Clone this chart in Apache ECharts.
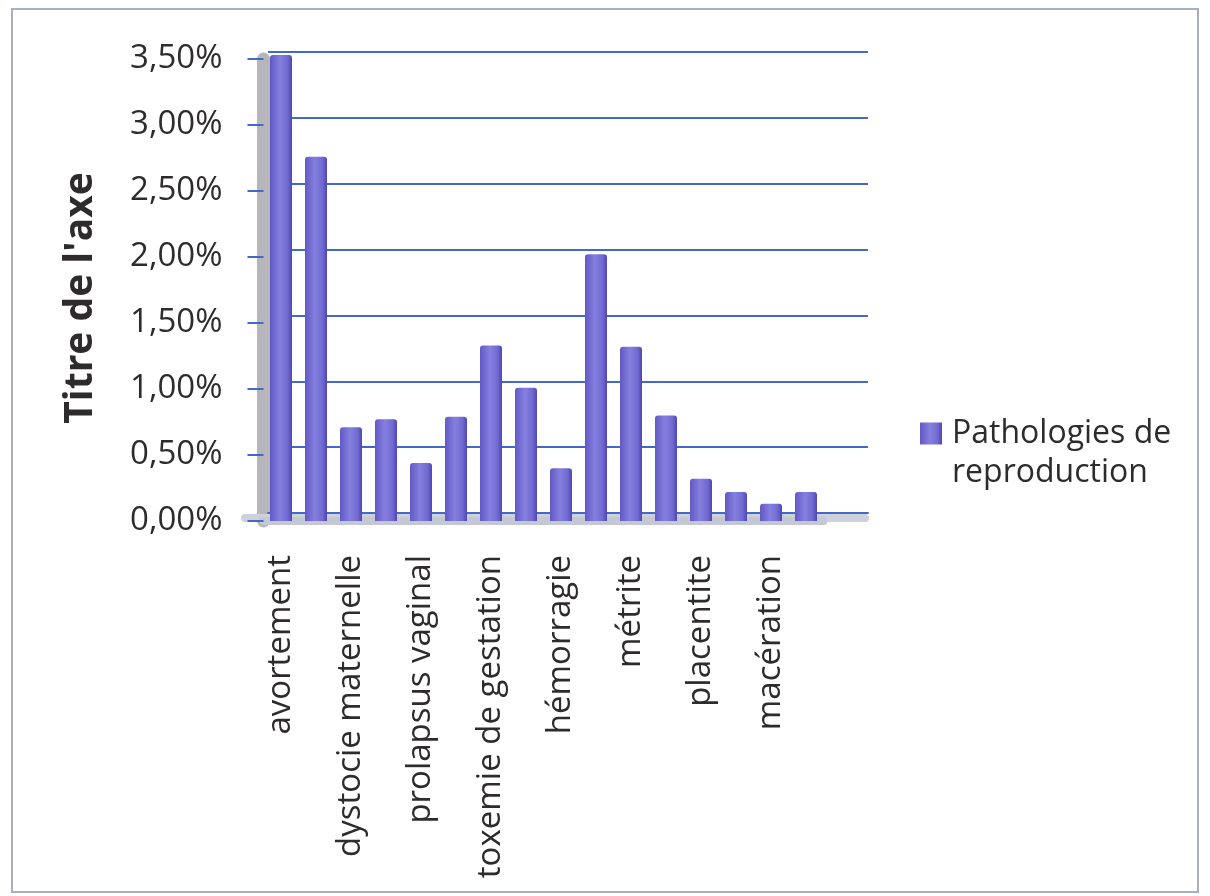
<!DOCTYPE html>
<html>
<head>
<meta charset="utf-8">
<script src="https://cdn.jsdelivr.net/npm/echarts@6/dist/echarts.min.js"></script>
<style>
  html, body { margin: 0; padding: 0; background: #ffffff; }
  #frame {
    position: absolute; left: 11px; top: 8px; width: 1188px; height: 885px;
    border: 2px solid #a9aec4; box-sizing: border-box;
  }
  #chart { position: absolute; left: 0; top: 0; width: 1210px; height: 896px; }
</style>
</head>
<body>
<div id="frame"></div>
<div id="chart"></div>
<script>
// Pathologies de reproduction: share of cases per pathology (percent)
const categories = [
  'avortement', '', 'dystocie maternelle', '', 'prolapsus vaginal', '',
  'toxemie de gestation', '', 'hémorragie', '', 'métrite', '',
  'placentite', '', 'macération', ''
];
const values = [3.53, 2.76, 0.71, 0.77, 0.44, 0.79, 1.33, 1.01, 0.40, 2.02, 1.32, 0.80, 0.32, 0.22, 0.13, 0.22];
const seriesName = 'Pathologies de\nreproduction';
const axisTitle = "Titre de l'axe";
const yTicks = { min: 0, max: 3.5, interval: 0.5 };

const FONT = '"Open Sans", "DejaVu Sans", sans-serif';
const TEXT = '#2e2b2c';
const GRID_BLUE = '#4468c8';

const fmtPct = v => v.toFixed(2).replace('.', ',') + '%';

const chart = echarts.init(document.getElementById('chart'), null, { renderer: 'canvas' });

chart.setOption({
  backgroundColor: 'transparent',
  animation: false,
  grid: [
    // back wall: gridlines
    { left: 268, right: 342, top: 52, bottom: 383 },
    // floor strip under the bars
    { left: 245, right: 345, top: 100, bottom: 378 },
    // front plane: bars, labels and side wall
    { left: 263.5, right: 386.5, top: 59, bottom: 375 }
  ],
  xAxis: [
    {
      gridIndex: 0, type: 'category', data: categories,
      axisLine: { show: true, lineStyle: { color: GRID_BLUE, width: 2 } },
      axisTick: { show: false }, axisLabel: { show: false }, splitLine: { show: false }
    },
    {
      gridIndex: 1, type: 'value', min: 0, max: 1,
      axisLine: { show: true, lineStyle: { color: '#cdd1dc', width: 8 } },
      axisTick: { show: false }, axisLabel: { show: false }, splitLine: { show: false }
    },
    {
      gridIndex: 2, type: 'category', data: categories,
      axisLine: { show: true, lineStyle: { color: '#c4c8d4', width: 8 } },
      axisTick: { show: false },
      axisLabel: {
        interval: 0, rotate: 90, margin: 34,
        fontFamily: FONT, fontSize: 33, color: TEXT
      }
    }
  ],
  yAxis: [
    {
      gridIndex: 0, type: 'value', ...yTicks,
      axisLine: { show: false }, axisTick: { show: false }, axisLabel: { show: false },
      splitLine: { show: true, lineStyle: { color: GRID_BLUE, width: 2 } }
    },
    {
      gridIndex: 1, type: 'value', min: 0, max: 1, show: false
    },
    {
      gridIndex: 2, type: 'value', ...yTicks,
      name: axisTitle, nameLocation: 'middle', nameGap: 163,
      nameTextStyle: {
        fontFamily: FONT, fontSize: 39, fontWeight: 'bold', color: TEXT,
        padding: [0, 16, 0, 0]
      },
      axisLine: { show: true, lineStyle: { color: '#b7b7bb', width: 13 } },
      axisTick: { show: true, length: 16, lineStyle: { color: GRID_BLUE, width: 2 } },
      axisLabel: {
        margin: 41, formatter: fmtPct,
        fontFamily: FONT, fontSize: 33, color: TEXT
      },
      splitLine: { show: false }
    }
  ],
  legend: {
    orient: 'vertical', left: 920, top: 375,
    itemWidth: 22, itemHeight: 22, padding: 0,
    icon: 'rect',
    // leading blank line keeps the marker level with the first text line
    formatter: name => '\n' + name,
    textStyle: {
      fontFamily: FONT, fontSize: 32, color: TEXT, lineHeight: 39,
      padding: [0, 0, 0, 5]
    },
    data: [seriesName]
  },
  series: [
    {
      name: seriesName, type: 'bar', xAxisIndex: 2, yAxisIndex: 2,
      data: values, barWidth: 22, clip: false,
      itemStyle: {
        borderRadius: [3, 3, 0, 0],
        color: new echarts.graphic.LinearGradient(0, 0, 1, 0, [
          { offset: 0, color: '#6258c6' },
          { offset: 0.45, color: '#8580de' },
          { offset: 0.8, color: '#7069d2' },
          { offset: 1, color: '#4f46b0' }
        ])
      }
    }
  ]
});
</script>
</body>
</html>
